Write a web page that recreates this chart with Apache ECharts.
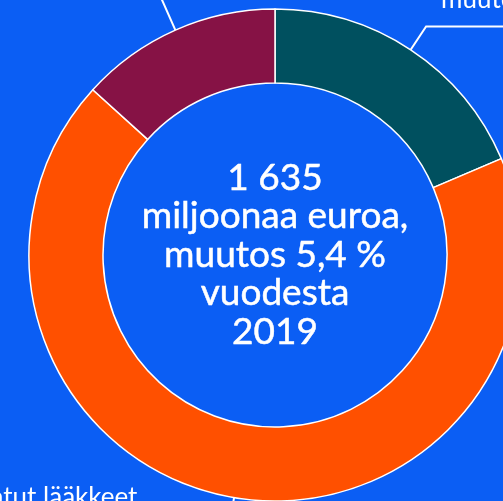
<!DOCTYPE html>
<html><head><meta charset="utf-8">
<style>html,body{margin:0;padding:0;background:#0b5ef4;overflow:hidden}#c{width:503px;height:501px}</style>
<script src="https://cdn.jsdelivr.net/npm/echarts@6/dist/echarts.min.js"></script>
</head><body><div id="c"></div>
<script>
// Data (milj. euroa)
const categories = ['Sairaalalääkkeet', 'Avohoidon korvatut lääkkeet', 'Muut lääkkeet'];
const values = [304, 1114, 217];
const changes = ['6,2', '5,0', '6,1'];
const centerLines = ['1 635', 'miljoonaa euroa,', 'muutos 5,4 %', 'vuodesta', '2019'];

// Styles / layout
const colors = ['#00505f', '#ff5000', '#861245'];
const CX = 275, CY = 255, R_OUT = 246, R_IN = 172;
const FIRST_LEN = [28, 28, 48];
const fmt = v => String(v).replace(/\B(?=(\d{3})+(?!\d))/g, ' ');

const chart = echarts.init(document.getElementById('c'), null, {renderer: 'canvas'});
chart.setOption({
  backgroundColor: '#0b5ef4',
  animation: false,
  graphic: [{
    type: 'text', x: CX, y: CY,
    style: {
      text: centerLines.join('\n'), fill: '#ffffff',
      fontFamily: 'Lato', fontSize: 37, lineHeight: 38.5,
      stroke: '#ffffff', lineWidth: 0.5,
      align: 'center', verticalAlign: 'middle',
      textAlign: 'center', textVerticalAlign: 'middle'
    }
  }],
  series: [{
    type: 'pie',
    center: [CX, CY],
    radius: [R_IN, R_OUT],
    startAngle: 90,
    clockwise: true,
    avoidLabelOverlap: false,
    data: categories.map((n, i) => ({ name: n, value: values[i], change: changes[i], itemStyle: { color: colors[i] } })),
    itemStyle: { borderColor: '#ffffff', borderWidth: 1.5 },
    emphasis: { disabled: true },
    label: {
      show: true, color: '#ffffff', fontFamily: 'Lato', fontSize: 26, lineHeight: 30,
      formatter: p => p.name + '\n' + fmt(p.value) + ' milj. euroa,\nmuutos ' + p.data.change + ' %'
    },
    labelLine: { show: true, length: 28, length2: 100, lineStyle: { color: '#ffffff', width: 2 } },
    labelLayout: function (p) {
      const i = p.dataIndex;
      const a = p.labelLinePoints[0];
      const ux = (a[0] - CX) / R_OUT, uy = (a[1] - CY) / R_OUT;
      const L = FIRST_LEN[i];
      const b = [a[0] + ux * L, a[1] + uy * L];
      const right = ux > 0;
      const c = [b[0] + (right ? 1 : -1) * 120, b[1]];
      const pts = [a, b, c];
      if (uy < 0) {
        return right
          ? { x: b[0] + 15, y: b[1] - 12, align: 'left', verticalAlign: 'bottom', labelLinePoints: pts }
          : { x: b[0] - 15, y: b[1] - 12, align: 'right', verticalAlign: 'bottom', labelLinePoints: pts };
      }
      return { x: b[0] - 92, y: b[1] - 43, align: 'right', verticalAlign: 'top', labelLinePoints: pts };
    }
  }]
});
</script>
</body></html>
